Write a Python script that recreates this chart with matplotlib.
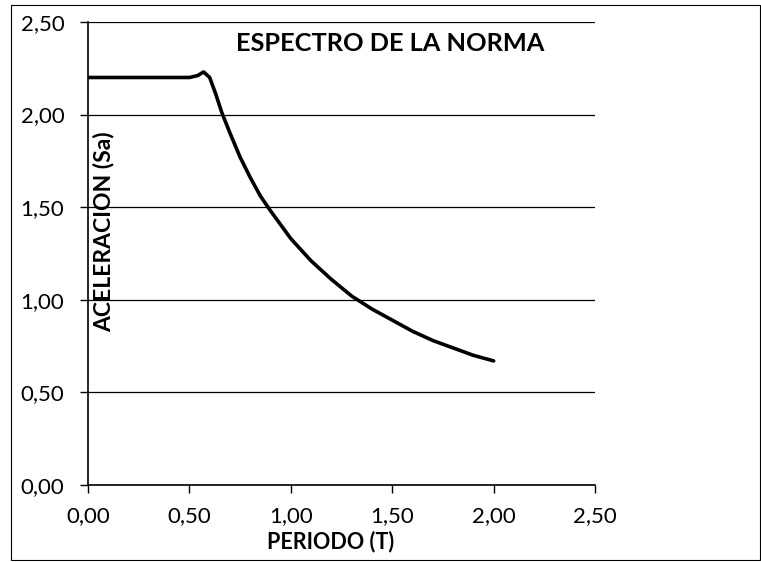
import matplotlib
matplotlib.use('Agg')
from matplotlib import pyplot as plt
from matplotlib.patches import Rectangle

# datos del espectro
periodo = [0.00, 0.10, 0.20, 0.30, 0.40, 0.50, 0.54, 0.57, 0.60, 0.63, 0.66,
           0.70, 0.75, 0.80, 0.85, 0.90, 1.00, 1.10, 1.20, 1.30, 1.40, 1.50,
           1.60, 1.70, 1.80, 1.90, 2.00]
aceleracion = [2.20, 2.20, 2.20, 2.20, 2.20, 2.20, 2.21, 2.23, 2.20, 2.11, 2.01,
               1.90, 1.77, 1.66, 1.56, 1.48, 1.33, 1.21, 1.11, 1.02, 0.95, 0.89,
               0.83, 0.78, 0.74, 0.70, 0.67]
ticks = [0.0, 0.5, 1.0, 1.5, 2.0, 2.5]
tick_labels = ['0,00', '0,50', '1,00', '1,50', '2,00', '2,50']

plt.rcParams['font.family'] = ['Lato', 'DejaVu Sans']

fig = plt.figure(figsize=(7.61, 5.62), dpi=100)
ax = fig.add_axes([0.1156, 0.137, 0.6664, 0.824])

ax.plot(periodo, aceleracion, color='black', linewidth=2.6, zorder=3,
        solid_joinstyle='round', solid_capstyle='round')

ax.set_xlim(0, 2.5)
ax.set_ylim(0, 2.5)
ax.set_xticks(ticks)
ax.set_xticklabels(tick_labels)
ax.set_yticks(ticks)
ax.set_yticklabels(tick_labels)
ax.tick_params(axis='both', labelsize=16, color='black', width=1, length=6)
ax.tick_params(axis='x', pad=9)
ax.tick_params(axis='y', pad=11)

ax.grid(axis='y', color='black', linewidth=0.9)
ax.spines['top'].set_visible(False)
ax.spines['right'].set_visible(False)
ax.spines['left'].set_linewidth(1.2)
ax.spines['bottom'].set_linewidth(1.2)

# titulo y nombres de ejes
ax.text(1.49, 2.381, 'ESPECTRO DE LA NORMA', fontsize=18.3, fontweight='bold',
        ha='center', va='center')
ax.text(0.079, 1.366, 'ACELERACION (Sa)', fontsize=16.5, fontweight='bold',
        rotation=90, ha='center', va='center')
fig.text(331 / 761, 1 - 542 / 562, 'PERIODO (T)', fontsize=15.5,
         fontweight='bold', ha='center', va='center')

# marco exterior
fig.patches.append(Rectangle((0.014, 0.004), 0.985, 0.987, fill=False,
                             edgecolor='black', linewidth=0.8,
                             transform=fig.transFigure))

fig.savefig('out.png', dpi=100)
